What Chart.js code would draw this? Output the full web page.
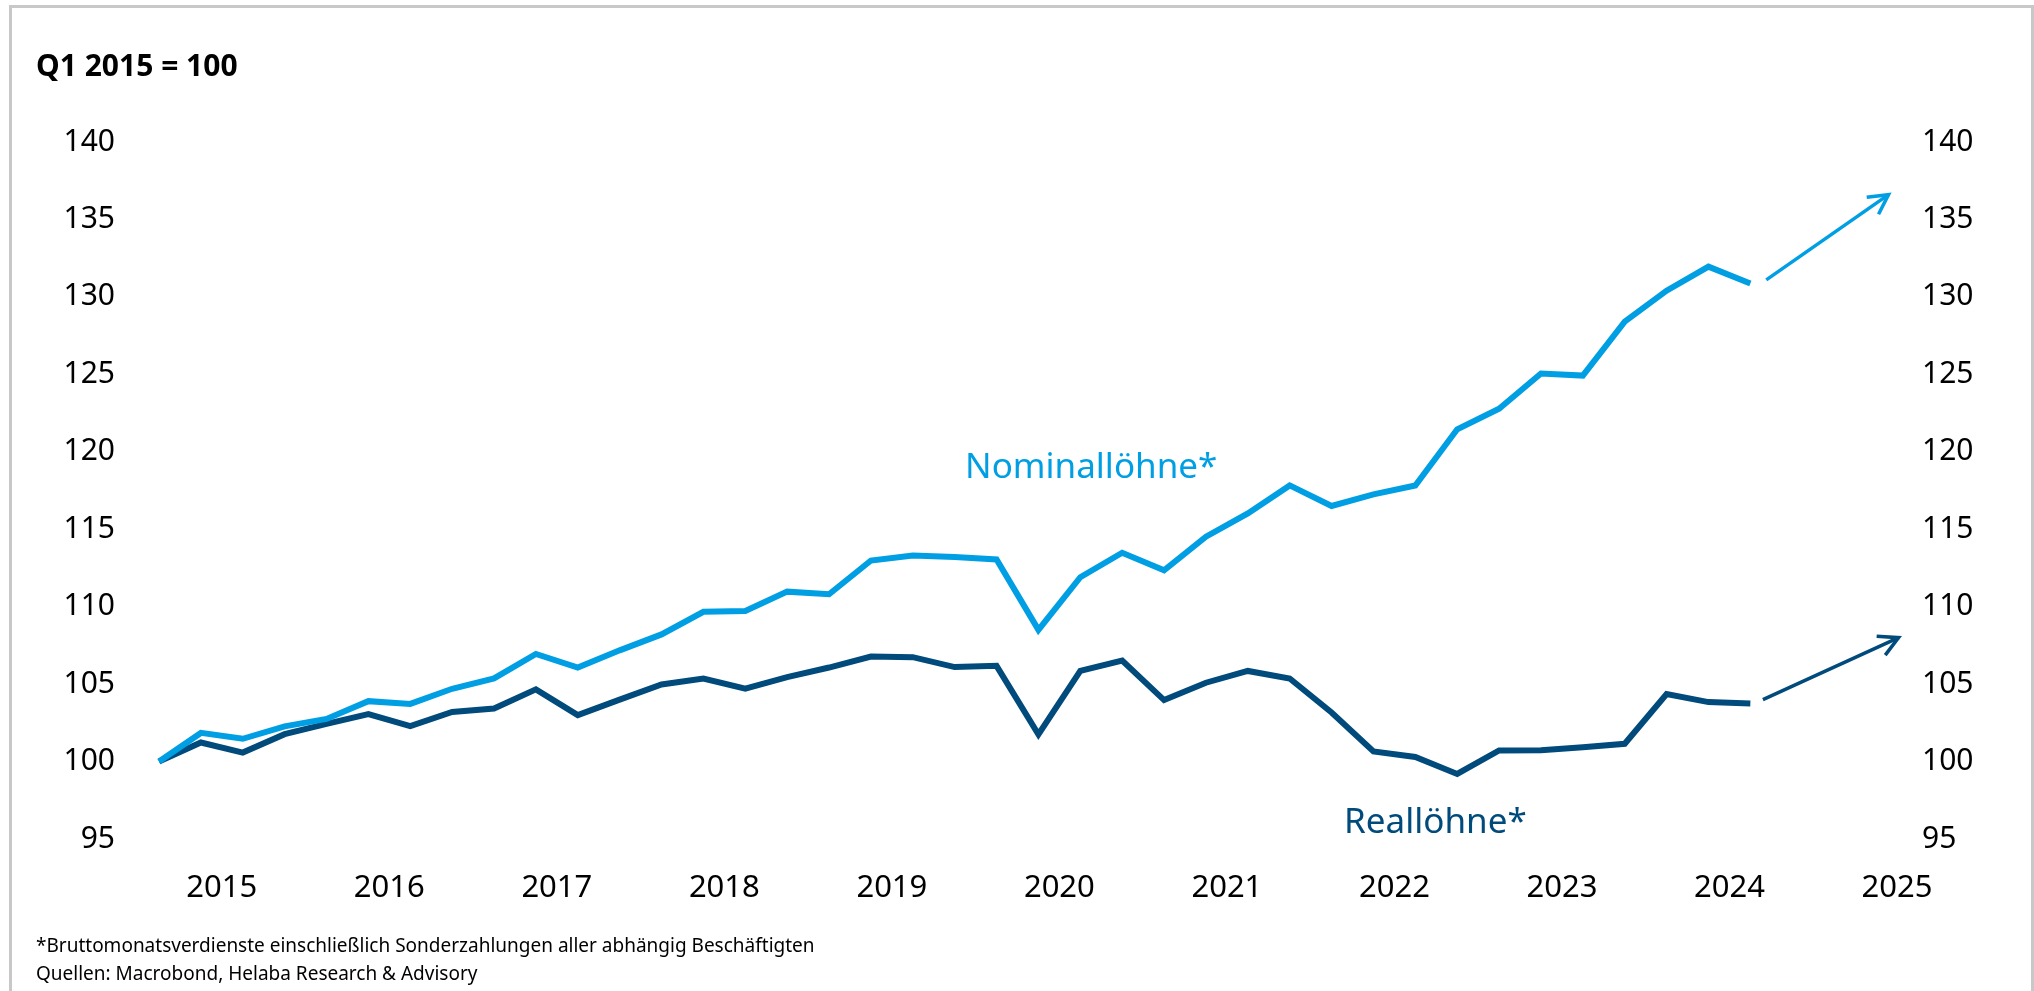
<!DOCTYPE html>
<html lang="de">
<head>
<meta charset="utf-8">
<title>Nominal- und Reallöhne</title>
<script src="https://cdn.jsdelivr.net/npm/chart.js@4.4.1/dist/chart.umd.min.js"></script>
<style>
  html, body { margin: 0; padding: 0; background: #fff; }
  #wrap { position: relative; width: 2034px; height: 991px; overflow: hidden; font-family: 'Noto Sans', sans-serif; color: #000; }
  #frame { position: absolute; left: 9px; top: 5px; right: 0; bottom: -20px; border: 3px solid #c8c8c8; }
  #chart { position: absolute; left: 0; top: 0; }
  #title { position: absolute; left: 36px; top: 50px; font-size: 30px; line-height: 30px; font-weight: bold; white-space: nowrap; }
  #notes { position: absolute; left: 36px; top: 931px; font-size: 19px; line-height: 28px; white-space: nowrap; }
</style>
</head>
<body>
<div id="wrap">
  <div id="frame"></div>
  <canvas id="chart" width="2034" height="991"></canvas>
  <div id="title">Q1 2015 = 100</div>
  <div id="notes">*Bruttomonatsverdienste einschließlich Sonderzahlungen aller abhängig Beschäftigten<br>Quellen: Macrobond, Helaba Research &amp; Advisory</div>
</div>
<script>
document.addEventListener('DOMContentLoaded', function () {

    /*** ======== Daten ======== ***/
    const quarters = [
        '2015 Q1','2015 Q2','2015 Q3','2015 Q4',
        '2016 Q1','2016 Q2','2016 Q3','2016 Q4',
        '2017 Q1','2017 Q2','2017 Q3','2017 Q4',
        '2018 Q1','2018 Q2','2018 Q3','2018 Q4',
        '2019 Q1','2019 Q2','2019 Q3','2019 Q4',
        '2020 Q1','2020 Q2','2020 Q3','2020 Q4',
        '2021 Q1','2021 Q2','2021 Q3','2021 Q4',
        '2022 Q1','2022 Q2','2022 Q3','2022 Q4',
        '2023 Q1','2023 Q2','2023 Q3','2023 Q4',
        '2024 Q1','2024 Q2','2024 Q3'
    ];

    const nominalWages = [
        100.0, 101.85, 101.47, 102.27, 102.75, 103.9, 103.72, 104.7,
        105.37, 106.95, 106.07, 107.18, 108.21, 109.67, 109.72, 110.97,
        110.8, 112.98, 113.3, 113.2, 113.05, 108.5, 111.9, 113.48,
        112.35, 114.52, 116.02, 117.83, 116.5, 117.25, 117.82, 121.45,
        122.78, 125.05, 124.92, 128.4, 130.4, 131.95, 130.87
    ];

    const realWages = [
        100.0, 101.23, 100.58, 101.77, 102.43, 103.06, 102.29, 103.2,
        103.42, 104.66, 103.0, 104.0, 104.98, 105.36, 104.7, 105.45,
        106.07, 106.78, 106.74, 106.1, 106.18, 101.75, 105.85, 106.52,
        103.97, 105.09, 105.85, 105.36, 103.17, 100.65, 100.3, 99.2,
        100.72, 100.73, 100.93, 101.15, 104.36, 103.84, 103.75
    ];

    // Trendpfeile (Zeit in Jahren, Indexwert)
    const nominalTrendX = [2024.72, 2025.45];
    const nominalTrendY = [131.1, 136.6];
    const realTrendX = [2024.70, 2025.51];
    const realTrendY = [104.0, 108.0];

    const yTicks = [95, 100, 105, 110, 115, 120, 125, 130, 135, 140];
    const yearTicks = [2015, 2016, 2017, 2018, 2019, 2020, 2021, 2022, 2023, 2024, 2025];

    const nominalColor = '#009fe3';
    const realColor = '#004a7c';

    /*** ======== Hilfsfunktionen ======== ***/
    // Quartal -> Quartalsmitte auf der Jahresachse
    function quarterToX(label) {
        const parts = label.split(' Q');
        return parseInt(parts[0]) + (parseInt(parts[1]) - 0.5) / 4;
    }

    function toPoints(values) {
        return values.map((v, i) => ({ x: quarterToX(quarters[i]), y: v }));
    }

    function pairPoints(xs, ys) {
        return xs.map((x, i) => ({ x: x, y: ys[i] }));
    }

    /*** ======== Plugins ======== ***/
    const arrowHeads = {
        id: 'arrowHeads',
        afterDatasetsDraw(chart) {
            const ctx = chart.ctx;
            chart.data.datasets.forEach((ds, i) => {
                if (!ds.arrow) return;
                const pts = chart.getDatasetMeta(i).data;
                const a = pts[pts.length - 2];
                const b = pts[pts.length - 1];
                const ang = Math.atan2(b.y - a.y, b.x - a.x);
                const len = 22, spread = 0.49;
                ctx.save();
                ctx.strokeStyle = ds.borderColor;
                ctx.lineWidth = ds.borderWidth;
                ctx.lineJoin = 'miter';
                ctx.beginPath();
                ctx.moveTo(b.x - len * Math.cos(ang - spread), b.y - len * Math.sin(ang - spread));
                ctx.lineTo(b.x, b.y);
                ctx.lineTo(b.x - len * Math.cos(ang + spread), b.y - len * Math.sin(ang + spread));
                ctx.stroke();
                ctx.restore();
            });
        }
    };

    const seriesLabels = [
        { text: 'Nominallöhne*', x: 2020.69, y: 118.3, color: nominalColor },
        { text: 'Reallöhne*', x: 2022.745, y: 95.4, color: realColor }
    ];

    const labelPlugin = {
        id: 'seriesLabels',
        afterDraw(chart) {
            const ctx = chart.ctx;
            const xs = chart.scales.x, ys = chart.scales.y;
            ctx.save();
            ctx.font = '35px "Noto Sans"';
            ctx.textAlign = 'center';
            ctx.textBaseline = 'alphabetic';
            seriesLabels.forEach(l => {
                ctx.fillStyle = l.color;
                ctx.fillText(l.text, xs.getPixelForValue(l.x), ys.getPixelForValue(l.y));
            });
            ctx.restore();
        }
    };

    /*** ======== Chart ======== ***/
    Chart.defaults.font.family = '"Noto Sans", sans-serif';
    Chart.defaults.color = '#000';

    const yAxis = (position, width) => ({
        type: 'linear',
        position: position,
        min: 95,
        max: 140,
        grid: { display: false, drawTicks: false },
        border: { display: false },
        afterBuildTicks: scale => { scale.ticks = yTicks.map(v => ({ value: v })); },
        afterFit: scale => { scale.width = width; },
        ticks: { font: { size: 30 }, padding: 10 }
    });

    const ctx = document.getElementById('chart').getContext('2d');
    new Chart(ctx, {
        type: 'line',
        data: {
            datasets: [
                {
                    label: 'Nominallöhne*',
                    data: toPoints(nominalWages),
                    borderColor: nominalColor,
                    borderWidth: 6,
                    pointRadius: 0,
                    tension: 0,
                    borderCapStyle: 'butt'
                },
                {
                    label: 'Reallöhne*',
                    data: toPoints(realWages),
                    borderColor: realColor,
                    borderWidth: 6,
                    pointRadius: 0,
                    tension: 0,
                    borderCapStyle: 'butt'
                },
                {
                    label: 'Trend Nominallöhne',
                    data: pairPoints(nominalTrendX, nominalTrendY),
                    borderColor: nominalColor,
                    borderWidth: 3.5,
                    pointRadius: 0,
                    arrow: true
                },
                {
                    label: 'Trend Reallöhne',
                    data: pairPoints(realTrendX, realTrendY),
                    borderColor: realColor,
                    borderWidth: 3.5,
                    pointRadius: 0,
                    arrow: true
                }
            ]
        },
        options: {
            responsive: false,
            animation: false,
            devicePixelRatio: 1,
            layout: { padding: { top: 142, left: 0, right: 0, bottom: 0 } },
            plugins: {
                legend: { display: false },
                tooltip: { enabled: false }
            },
            scales: {
                x: {
                    type: 'linear',
                    min: 2014.922,
                    max: 2025.59,
                    grid: { display: false, drawTicks: false },
                    border: { display: false },
                    afterBuildTicks: scale => { scale.ticks = yearTicks.map(y => ({ value: y + 0.5 })); },
                    afterFit: scale => { scale.height = 152; },
                    ticks: {
                        font: { size: 31 },
                        padding: 31,
                        autoSkip: false,
                        maxRotation: 0,
                        callback: v => String(Math.floor(v))
                    }
                },
                y: yAxis('left', 125),
                y2: yAxis('right', 122)
            }
        },
        plugins: [arrowHeads, labelPlugin]
    });

});
</script>
</body>
</html>
